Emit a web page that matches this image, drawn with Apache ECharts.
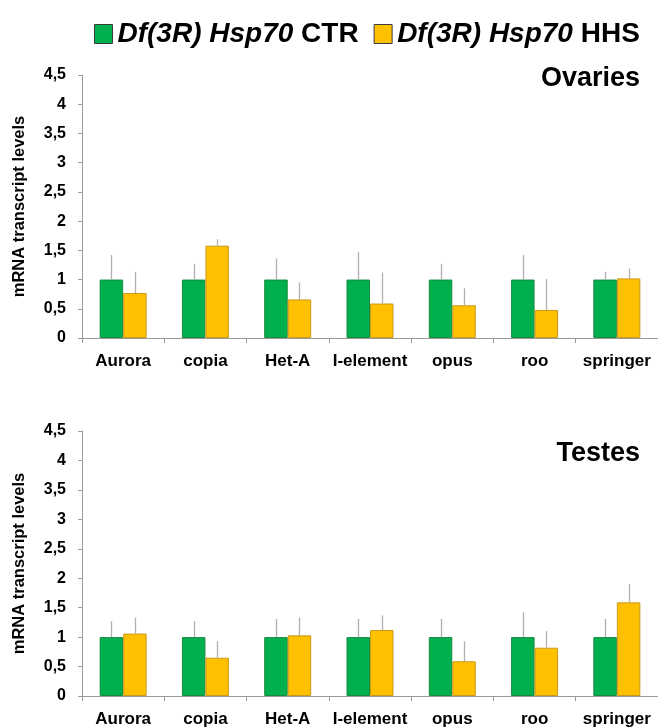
<!DOCTYPE html>
<html>
<head>
<meta charset="utf-8">
<script src="https://cdn.jsdelivr.net/npm/echarts@6/dist/echarts.min.js"></script>
<style>
html,body{margin:0;padding:0;background:#fff;}
#chart{width:658px;height:728px;}
</style>
</head>
<body>
<div id="chart"></div>
<script>
// ---- data ----
const categories = ['Aurora', 'copia', 'Het-A', 'I-element', 'opus', 'roo', 'springer'];
const yTicks = ['0', '0,5', '1', '1,5', '2', '2,5', '3', '3,5', '4', '4,5'];
const seriesNames = ['CTR', 'HHS'];

const ovariesCTR = [1, 1, 1, 1, 1, 1, 1];
const ovariesHHS = [0.77, 1.58, 0.66, 0.59, 0.56, 0.48, 1.02];
const ovariesCTRsd = [0.42, 0.27, 0.36, 0.47, 0.27, 0.42, 0.13];
const ovariesHHSsd = [0.36, 0.11, 0.29, 0.53, 0.29, 0.53, 0.17];

const testesCTR = [1, 1, 1, 1, 1, 1, 1];
const testesHHS = [1.06, 0.65, 1.03, 1.12, 0.59, 0.82, 1.59];
const testesCTRsd = [0.27, 0.27, 0.31, 0.31, 0.31, 0.42, 0.31];
const testesHHSsd = [0.27, 0.28, 0.30, 0.25, 0.34, 0.28, 0.31];

// ---- styles ----
const FONT = '"Liberation Sans", Arial, Helvetica, sans-serif';
const GREEN = '#00b04f';
const GREEN_B = '#178a3e';
const YELLOW = '#ffc000';
const YELLOW_B = '#c99a1a';
const AXIS = '#9a9a9a';
const ERR = '#b0b0b0';
const BAR_W = 23.5;

const chart = echarts.init(document.getElementById('chart'), null, {renderer: 'canvas'});

function xAxis(gi) {
  return {
    type: 'category', gridIndex: gi, data: categories,
    axisLine: {lineStyle: {color: AXIS, width: 1}},
    axisTick: {show: true, length: 5, lineStyle: {color: AXIS}},
    axisLabel: {color: '#000', fontFamily: FONT, fontWeight: 'bold', fontSize: 17, margin: 15, interval: 0}
  };
}
function yAxis(gi) {
  return {
    type: 'value', gridIndex: gi, min: 0, max: 4.5, interval: 0.5,
    name: 'mRNA transcript levels', nameLocation: 'middle', nameGap: 54, nameRotate: 90,
    nameTextStyle: {color: '#000', fontFamily: FONT, fontWeight: 'bold', fontSize: 16.5},
    axisLine: {show: true, lineStyle: {color: AXIS, width: 1}},
    axisTick: {show: true, length: 4, lineStyle: {color: AXIS}},
    splitLine: {show: false},
    axisLabel: {
      color: '#000', fontFamily: FONT, fontWeight: 'bold', fontSize: 16, margin: 16,
      formatter: function (v) { return yTicks[Math.round(v * 2)]; }
    }
  };
}
function barSeries(name, gi, data, color, border) {
  return {
    name: name, type: 'bar', xAxisIndex: gi, yAxisIndex: gi, data: data,
    barWidth: BAR_W, barGap: '0%',
    itemStyle: {color: color, borderColor: border, borderWidth: 1},
    emphasis: {disabled: true}, z: 2
  };
}
function errSeries(gi, vals, sds, offset) {
  return {
    type: 'custom', xAxisIndex: gi, yAxisIndex: gi, z: 3, silent: true,
    data: vals.map(function (v, i) { return [i, v, v + sds[i]]; }),
    renderItem: function (params, api) {
      const p0 = api.coord([api.value(0), api.value(1)]);
      const p1 = api.coord([api.value(0), api.value(2)]);
      const x = Math.round(p0[0] + offset) + 0.5;
      return {
        type: 'line',
        shape: {x1: x, y1: p0[1], x2: x, y2: p1[1]},
        style: {stroke: ERR, lineWidth: 1.3}
      };
    }
  };
}

const option = {
  backgroundColor: '#fff',
  animation: false,
  textStyle: {fontFamily: FONT},
  legend: {
    left: 89, top: 15,
    itemWidth: 18, itemHeight: 19, itemGap: 15,
    icon: 'rect',
    data: [
      {name: 'CTR', itemStyle: {color: GREEN, borderColor: '#3a3a3a', borderWidth: 1}},
      {name: 'HHS', itemStyle: {color: YELLOW, borderColor: '#3a3a3a', borderWidth: 1}}
    ],
    formatter: function (n) { return '{i|Df(3R) Hsp70 }{b|' + n + '}'; },
    textStyle: {
      rich: {
        i: {fontFamily: FONT, fontWeight: 'bold', fontStyle: 'italic', fontSize: 28, color: '#000'},
        b: {fontFamily: FONT, fontWeight: 'bold', fontSize: 28, color: '#000'}
      }
    }
  },
  title: [
    {text: 'Ovaries', right: 13, top: 60, textStyle: {fontFamily: FONT, fontWeight: 'bold', fontSize: 27, color: '#000'}},
    {text: 'Testes', right: 13, top: 435, textStyle: {fontFamily: FONT, fontWeight: 'bold', fontSize: 27, color: '#000'}}
  ],
  grid: [
    {left: 82, right: 0, top: 75, height: 263},
    {left: 82, right: 0, top: 431, height: 265}
  ],
  xAxis: [xAxis(0), xAxis(1)],
  yAxis: [yAxis(0), yAxis(1)],
  series: [
    barSeries(seriesNames[0], 0, ovariesCTR, GREEN, GREEN_B),
    barSeries(seriesNames[1], 0, ovariesHHS, YELLOW, YELLOW_B),
    barSeries(seriesNames[0], 1, testesCTR, GREEN, GREEN_B),
    barSeries(seriesNames[1], 1, testesHHS, YELLOW, YELLOW_B),
    errSeries(0, ovariesCTR, ovariesCTRsd, -BAR_W / 2),
    errSeries(0, ovariesHHS, ovariesHHSsd, BAR_W / 2),
    errSeries(1, testesCTR, testesCTRsd, -BAR_W / 2),
    errSeries(1, testesHHS, testesHHSsd, BAR_W / 2)
  ]
};
chart.setOption(option);
</script>
</body>
</html>
